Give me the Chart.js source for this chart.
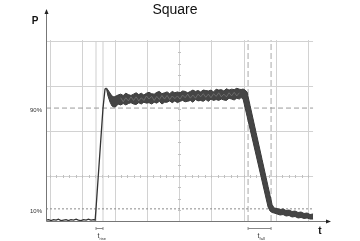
<!DOCTYPE html>
<html>
<head>
<meta charset="utf-8">
<script src="https://cdn.jsdelivr.net/npm/chart.js@4/dist/chart.umd.min.js"></script>
<style>
html,body{margin:0;padding:0;background:#fff;}
#wrap{width:360px;height:241px;position:relative;}
</style>
</head>
<body>
<div id="wrap"><canvas id="c" width="360" height="241"></canvas></div>
<script>
// ---- data (time in ms, 10 ms / division; P in divisions) ----
const title = 'Square';
const timeGrid = [0,10,20,30,40,50,60,70,80];
const levelGrid = [1,2,3,4];
const levelLabels = ['90%','10%'];
const levelValues = [2.51, 0.27];
const riseMarks = [14.26, 16.43];
const fallMarks = [61.40, 68.53];
const markerLabels = ['rise','fall'];

// baseline + rising edge (single sweep)
const riseT = [-1.2,-0.4,0.3,1.1,1.9,2.6,3.4,4.2,5.0,5.7,6.5,7.3,8.1,8.8,9.6,10.4,11.2,11.9,12.7,13.5,14.0,14.26,16.43,17.05,17.52];
const riseP = [0.02,0.03,0.01,0.03,0.02,0.04,0.01,0.02,0.03,0.01,0.03,0.02,0.04,0.02,0.01,0.03,0.02,0.04,0.02,0.03,0.02,0.27,2.51,2.93,2.956];

// overlaid sweeps: envelope (upper / lower) of the noisy band
const bandT = [17.52,17.98,18.60,19.22,19.84,20.47,21.09,
  21.9,22.7,23.5,24.3,25.1,25.9,26.7,27.5,28.3,29.1,29.9,30.7,31.5,32.3,33.1,33.9,34.7,35.5,36.3,37.1,37.9,38.7,39.5,40.3,41.1,41.9,42.7,43.5,44.3,45.1,45.9,46.7,47.5,48.3,49.1,49.9,50.7,51.5,52.3,53.1,53.9,54.7,55.5,56.3,57.1,57.9,58.7,
  59.23,59.85,60.47,61.09,62.02,62.95,63.88,64.81,65.74,66.67,67.60,68.22,68.84,69.46,
  70.39,71.32,72.25,73.18,74.11,75.04,75.97,76.90,77.83,78.76,79.69,80.62,81.55];
const bandUpper = [2.956,2.911,2.844,2.778,2.756,2.778,2.80,
  2.82,2.79,2.84,2.81,2.79,2.82,2.85,2.81,2.84,2.80,2.84,2.86,2.83,2.82,2.86,2.88,2.83,2.85,2.87,2.83,2.88,2.85,2.87,2.85,2.89,2.88,2.85,2.88,2.91,2.88,2.90,2.87,2.91,2.90,2.89,2.91,2.87,2.93,2.91,2.92,2.89,2.94,2.91,2.93,2.92,2.95,2.93,
  2.922,2.933,2.911,2.867,2.567,2.267,1.967,1.667,1.367,1.067,0.767,0.567,0.367,0.289,
  0.278,0.256,0.267,0.233,0.244,0.211,0.222,0.189,0.200,0.167,0.178,0.144,0.156];
const bandLower = [2.933,2.778,2.644,2.556,2.533,2.544,2.60,
  2.58,2.61,2.58,2.61,2.63,2.60,2.59,2.63,2.60,2.64,2.62,2.63,2.60,2.64,2.62,2.66,2.60,2.64,2.64,2.67,2.63,2.67,2.63,2.66,2.68,2.65,2.66,2.68,2.64,2.70,2.67,2.68,2.66,2.70,2.66,2.71,2.68,2.70,2.68,2.71,2.69,2.68,2.73,2.71,2.69,2.73,2.71,
  2.744,2.711,2.52,2.329,2.042,1.756,1.467,1.178,0.889,0.60,0.311,0.222,0.189,0.178,
  0.156,0.133,0.144,0.111,0.122,0.089,0.100,0.067,0.078,0.056,0.067,0.044,0.044];
// a lighter inner sweep across the plateau (texture of the overlaid traces)
const midT = [21.9,22.7,23.5,24.3,25.1,25.9,26.7,27.5,28.3,29.1,29.9,30.7,31.5,32.3,33.1,33.9,34.7,35.5,36.3,37.1,37.9,38.7,39.5,40.3,41.1,41.9,42.7,43.5,44.3,45.1,45.9,46.7,47.5,48.3,49.1,49.9,50.7,51.5,52.3,53.1,53.9,54.7,55.5,56.3,57.1,57.9,58.7];
const midP = [2.74,2.65,2.74,2.67,2.76,2.68,2.76,2.67,2.74,2.68,2.78,2.71,2.77,2.68,2.77,2.70,2.79,2.71,2.79,2.70,2.78,2.72,2.78,2.71,2.80,2.74,2.82,2.73,2.80,2.73,2.82,2.76,2.83,2.75,2.82,2.74,2.83,2.77,2.85,2.76,2.82,2.76,2.85,2.78,2.86,2.78,2.85];

// ---- helpers ----
const pts = (xs, ys) => xs.map((x,i)=>({x:x, y:ys[i]}));
const X_MIN = -1.24, X_MAX = 86.8, Y_MIN = 0, Y_MAX = 4.69, REF_END = 81.55;

const datasets = [
  {label:'mid', data:pts(midT,midP), borderColor:'rgba(120,120,120,0.9)', borderWidth:0.8, pointRadius:0, fill:false},
  {label:'rise', data:pts(riseT,riseP), borderColor:'#333', borderWidth:1.3, pointRadius:0, fill:false},
  {label:'upper', data:pts(bandT,bandUpper), borderColor:'#3a3a3a', borderWidth:1, pointRadius:0, fill:false},
  {label:'lower', data:pts(bandT,bandLower), borderColor:'#3a3a3a', borderWidth:1, pointRadius:0, fill:'-1', backgroundColor:'#454545'},
  {label:'90', data:[{x:X_MIN,y:levelValues[0]},{x:REF_END,y:levelValues[0]}], borderColor:'#9a9a9a', borderWidth:1, borderDash:[5,3], pointRadius:0, fill:false},
  {label:'10', data:[{x:X_MIN,y:levelValues[1]},{x:REF_END,y:levelValues[1]}], borderColor:'#8a8a8a', borderWidth:1, borderDash:[2,2], pointRadius:0, fill:false},
];
riseMarks.forEach(t=>datasets.push({label:'rm', data:[{x:t,y:0},{x:t,y:4}], borderColor:'#cfcfcf', borderWidth:1, pointRadius:0, fill:false}));
fallMarks.forEach(t=>datasets.push({label:'fm', data:[{x:t,y:0},{x:t,y:4.02}], borderColor:'#a8a8a8', borderWidth:1, borderDash:[6,3], pointRadius:0, fill:false}));

const decor = {
  id:'decor',
  beforeDatasetsDraw(chart){
    const c = chart.ctx, xs = chart.scales.x, ys = chart.scales.y;
    c.save();
    c.strokeStyle = '#d2d2d2'; c.lineWidth = 1;
    timeGrid.forEach(t=>{
      const px = Math.round(xs.getPixelForValue(t))+0.5;
      c.beginPath(); c.moveTo(px, ys.getPixelForValue(4)-1); c.lineTo(px, ys.getPixelForValue(0)); c.stroke();
    });
    levelGrid.forEach(v=>{
      const py = Math.round(ys.getPixelForValue(v))+0.5;
      c.beginPath(); c.moveTo(xs.getPixelForValue(X_MIN), py); c.lineTo(xs.getPixelForValue(REF_END), py); c.stroke();
    });
    // minor ticks
    c.strokeStyle = '#c0c0c0';
    const py1 = Math.round(ys.getPixelForValue(1))+0.5;
    for (let t=0; t<=80; t+=2){
      const px = Math.round(xs.getPixelForValue(t))+0.5;
      c.beginPath(); c.moveTo(px, py1-1.5); c.lineTo(px, py1+1.5); c.stroke();
    }
    const pxc = Math.round(xs.getPixelForValue(40))+0.5;
    for (let v=0; v<=4; v+=0.25){
      const py = Math.round(ys.getPixelForValue(v))+0.5;
      c.beginPath(); c.moveTo(pxc-1.5, py); c.lineTo(pxc+1.5, py); c.stroke();
    }
    c.restore();
  },
  afterDraw(chart){
    const c = chart.ctx, xs = chart.scales.x, ys = chart.scales.y;
    const x0 = Math.round(xs.getPixelForValue(X_MIN))+0.5;
    const y0 = Math.round(ys.getPixelForValue(0))+0.5;
    const yTop = ys.getPixelForValue(Y_MAX);
    const xEnd = xs.getPixelForValue(X_MAX);
    c.save();
    // axes
    c.strokeStyle = '#777'; c.lineWidth = 1;
    c.beginPath(); c.moveTo(x0, y0); c.lineTo(x0, yTop+3); c.stroke();
    c.beginPath(); c.moveTo(x0, y0); c.lineTo(xEnd-3, y0); c.stroke();
    c.fillStyle = '#222';
    c.beginPath(); c.moveTo(x0, yTop-1); c.lineTo(x0-2, yTop+4); c.lineTo(x0+2, yTop+4); c.closePath(); c.fill();
    c.beginPath(); c.moveTo(xEnd+1, y0); c.lineTo(xEnd-4, y0-2); c.lineTo(xEnd-4, y0+2); c.closePath(); c.fill();
    // title
    c.fillStyle = '#111';
    c.font = '14px "Liberation Sans", Arial, sans-serif';
    c.textAlign = 'center'; c.textBaseline = 'alphabetic';
    c.fillText(title, 175, 14);
    // axis names
    c.font = 'bold 10px "Liberation Sans", Arial, sans-serif';
    c.textBaseline = 'middle';
    c.fillText('P', 35, 21);
    c.fillText('t', 320, 231);
    // level labels
    c.font = '6px "Liberation Sans", Arial, sans-serif';
    c.textAlign = 'right'; c.fillStyle = '#333';
    levelLabels.forEach((l,i)=>{ c.fillText(l, 42, ys.getPixelForValue(levelValues[i])+2.5); });
    // brackets
    const by = y0 + 7;
    [riseMarks, fallMarks].forEach((m,i)=>{
      const a = xs.getPixelForValue(m[0]), b = xs.getPixelForValue(m[1]);
      c.strokeStyle = '#888'; c.lineWidth = 1;
      c.beginPath(); c.moveTo(a, by); c.lineTo(b, by); c.stroke();
      c.beginPath(); c.moveTo(a, by-1.5); c.lineTo(a, by+1.5); c.moveTo(b, by-1.5); c.lineTo(b, by+1.5); c.stroke();
      const mx = (a+b)/2 - 2;
      c.fillStyle = '#333'; c.textAlign = 'left';
      c.font = '7px "Liberation Sans", Arial, sans-serif';
      c.fillText('t', mx, by+8);
      c.font = '4px "Liberation Sans", Arial, sans-serif';
      c.fillText(markerLabels[i], mx+2, by+10);
    });
    c.restore();
  }
};

new Chart(document.getElementById('c'), {
  type:'line',
  data:{datasets:datasets},
  options:{
    responsive:false, animation:false,
    layout:{padding:{left:46, right:30, top:10, bottom:20}},
    plugins:{legend:{display:false}, tooltip:{enabled:false}, title:{display:false}},
    elements:{line:{tension:0}},
    scales:{
      x:{type:'linear', min:X_MIN, max:X_MAX, display:false},
      y:{type:'linear', min:Y_MIN, max:Y_MAX, display:false}
    }
  },
  plugins:[decor]
});
</script>
</body>
</html>
